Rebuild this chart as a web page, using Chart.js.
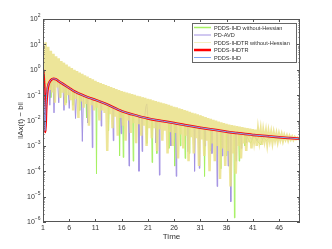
<!DOCTYPE html>
<html>
<head>
<meta charset="utf-8">
<script src="https://cdn.jsdelivr.net/npm/chart.js@4/dist/chart.umd.min.js"></script>
<style>
  html, body { margin: 0; padding: 0; background: #fff; }
  #wrap { width: 332px; height: 249px; }
</style>
</head>
<body>
<div id="wrap"><canvas id="chart" width="332" height="249"></canvas></div>
<script>
// ---- data ----
const seriesNames = [
    'PDDS-IHD without-Hessian',
    'PD-AVD',
    'PDDS-IHDTR without-Hessian',
    'PDDS-IHDTR',
    'PDDS-IHD'
];
const xTicks = [1, 6, 11, 16, 21, 26, 31, 36, 41, 46];
const yTicks = [1e-6, 1e-5, 1e-4, 1e-3, 1e-2, 1e-1, 1e0, 1e1, 1e2];

// PDDS-IHDTR (smooth red curve)
const redT = [1, 1.15, 1.3, 1.45, 1.6, 1.8, 2.1, 2.5, 3, 3.5, 4, 5, 6, 7, 8, 9, 10, 11, 13, 16, 18, 21, 24, 26, 28, 31, 34, 36, 38, 41, 44, 46, 48, 50];
const redV = [1, 0.5, 0.1, 0.0035, 0.025, 0.126, 0.28, 0.39, 0.44, 0.42, 0.355, 0.26, 0.19, 0.14, 0.112, 0.091, 0.076, 0.065, 0.045, 0.0234, 0.0174, 0.012, 0.0093, 0.0079, 0.0066, 0.0052, 0.0042, 0.0036, 0.0032, 0.0027, 0.0024, 0.0022, 0.00204, 0.0019];

// PDDS-IHD (thin blue, almost on top of the red one)
const blueT = [1, 1.1, 1.25, 1.4, 1.55, 1.75, 2.1, 2.5, 3, 3.5, 4, 5, 6, 7, 8, 9, 10, 11, 13, 16, 18, 21, 24, 26, 28, 31, 34, 36, 38, 41, 44, 46, 48, 50];
const blueV = [1, 0.3, 0.04, 0.004, 0.03, 0.13, 0.28, 0.39, 0.44, 0.42, 0.355, 0.26, 0.19, 0.14, 0.112, 0.091, 0.076, 0.065, 0.045, 0.0234, 0.0174, 0.012, 0.0093, 0.0079, 0.0066, 0.0052, 0.0042, 0.0036, 0.0032, 0.0027, 0.0024, 0.0022, 0.00204, 0.0019];

// PDDS-IHDTR without-Hessian: fast oscillation, crests at t = 1, 1.5, ... 50
const yellowHiT = [1, 1.5, 2, 2.5, 3, 3.5, 4, 4.5, 5, 5.5, 6, 6.5, 7, 7.5, 8, 8.5, 9, 9.5, 10, 10.5,
    11, 11.5, 12, 12.5, 13, 13.5, 14, 14.5, 15, 15.5, 16, 16.5, 17, 17.5, 18, 18.5, 19, 19.5, 20, 20.5,
    21, 21.5, 22, 22.5, 23, 23.5, 24, 24.5, 25, 25.5, 26, 26.5, 27, 27.5, 28, 28.5, 29, 29.5, 30, 30.5,
    31, 31.5, 32, 32.5, 33, 33.5, 34, 34.5, 35, 35.5, 36, 36.5, 37, 37.5, 38, 38.5, 39, 39.5, 40, 40.5,
    41, 41.5, 42, 42.5, 43, 43.5, 44, 44.5, 45, 45.5, 46, 46.5, 47, 47.5, 48, 48.5, 49, 49.5, 50];
const yellowHiV = [1.6, 12, 8, 5.6, 4.3, 3.4, 2.8, 2.2, 1.9, 1.6, 1.35, 1.17, 1.0, 0.89, 0.78, 0.69, 0.6, 0.54, 0.47, 0.42,
    0.37, 0.33, 0.3, 0.275, 0.25, 0.23, 0.21, 0.19, 0.174, 0.158, 0.145, 0.135, 0.126, 0.117, 0.11, 0.102, 0.095, 0.089, 0.083, 0.078,
    0.072, 0.068, 0.063, 0.059, 0.055, 0.051, 0.048, 0.045, 0.042, 0.038, 0.035, 0.033, 0.03, 0.028, 0.026, 0.024, 0.022, 0.02, 0.019, 0.0174,
    0.0162, 0.0148, 0.0138, 0.0126, 0.0117, 0.0107, 0.01, 0.0091, 0.0085, 0.0079, 0.0074, 0.0069, 0.0066, 0.0063, 0.006, 0.0058, 0.0055, 0.0052, 0.005, 0.0048,
    0.0046, 0.0044, 0.0042, 0.004, 0.0038, 0.0036, 0.0035, 0.0033, 0.0032, 0.003, 0.0029, 0.0028, 0.0026, 0.0025, 0.0024, 0.0023, 0.0022, 0.0021, 0.002];
// troughs at t = 1.25, 1.75, ... 49.75
const yellowLoT = [1.25, 1.75, 2.25, 2.75, 3.25, 3.75, 4.25, 4.75, 5.25, 5.75, 6.25, 6.75, 7.25, 7.75, 8.25, 8.75, 9.25, 9.75, 10.25, 10.75,
    11.25, 11.75, 12.25, 12.75, 13.25, 13.75, 14.25, 14.75, 15.25, 15.75, 16.25, 16.75, 17.25, 17.75, 18.25, 18.75, 19.25, 19.75, 20.25, 20.75,
    21.25, 21.75, 22.25, 22.75, 23.25, 23.75, 24.25, 24.75, 25.25, 25.75, 26.25, 26.75, 27.25, 27.75, 28.25, 28.75, 29.25, 29.75, 30.25, 30.75,
    31.25, 31.75, 32.25, 32.75, 33.25, 33.75, 34.25, 34.75, 35.25, 35.75, 36.25, 36.75, 37.25, 37.75, 38.25, 38.75, 39.25, 39.75, 40.25, 40.75,
    41.25, 41.75, 42.25, 42.75, 43.25, 43.75, 44.25, 44.75, 45.25, 45.75, 46.25, 46.75, 47.25, 47.75, 48.25, 48.75, 49.25, 49.75];
const yellowLoV = [0.32, 0.063, 0.16, 0.126, 0.05, 0.2, 0.079, 0.126, 0.04, 0.1, 0.063, 0.025, 0.071, 0.0126, 0.056, 0.032, 0.045, 0.0063, 0.04, 0.025,
    0.032, 0.01, 0.025, 0.02, 0.00063, 0.0178, 0.005, 0.014, 0.0025, 0.0126, 0.0063, 0.0016, 0.01, 0.0032, 0.0079, 0.00126, 0.0071, 0.0025, 0.0063, 0.001,
    0.005, 0.002, 0.005, 0.00063, 0.0045, 0.0016, 0.004, 0.0005, 0.0035, 0.001, 0.0032, 0.00032, 0.0028, 0.0008, 0.0025, 0.00025, 0.0022, 0.0005, 0.002, 0.00016,
    0.0018, 0.0004, 0.0016, 0.0001, 0.00126, 0.00025, 0.001, 0.00005, 0.0008, 0.00016, 0.00063, 0.000025, 0.0005, 0.00008, 0.001, 0.00032, 0.00126, 0.00063, 0.0014, 0.0008,
    0.0016, 0.001, 0.0016, 0.0011, 0.00166, 0.00126, 0.00166, 0.0014, 0.0017, 0.0015, 0.00174, 0.0016, 0.0018, 0.00166, 0.0018, 0.00174, 0.00186, 0.00186];

// PD-AVD (purple): rides just under the red curve, with thin downward spikes
const purpleT = [1, 1.2, 1.35, 1.5, 1.8, 2.1, 2.3, 2.5, 2.9, 3.1, 3.3, 3.8, 4.0, 4.2, 4.8, 5.0, 5.2, 5.8, 6.0, 6.2,
    7.0, 7.2, 7.4, 8.3, 8.5, 8.7, 9.4, 9.5, 9.6, 10.3, 10.4, 10.5, 12.0, 12.1, 12.2, 14.3, 14.4, 14.5, 15.8, 15.9,
    16.0, 17.3, 17.4, 17.5, 19.2, 19.3, 19.4, 19.8, 19.9, 20.0, 20.4, 20.6, 20.8, 21.0, 22.4, 22.5, 22.6, 23.1, 23.2, 23.3,
    25.3, 25.4, 25.5, 26.3, 26.4, 26.5, 28.5, 28.6, 28.7, 29.8, 29.9, 30.0, 30.7, 30.8, 30.9, 31.8, 31.9, 32.0, 33.1, 33.2,
    33.3, 34.1, 34.2, 34.3, 35.1, 35.2, 35.3, 36.2, 36.3, 36.4, 36.7, 36.8, 36.9, 37.7, 37.8, 37.9, 38.7, 38.8, 38.9, 39.7,
    39.8, 39.9, 40.8, 41.3, 41.8, 42.3, 42.8, 43.3, 44, 45, 46, 48, 50];
const purpleV = [1, 0.3, 0.03, 0.1, 0.15, 0.27, 0.04, 0.35, 0.4, 0.02, 0.4, 0.35, 0.05, 0.33, 0.26, 0.025, 0.24, 0.2, 0.03, 0.18,
    0.13, 0.012, 0.12, 0.1, 0.0015, 0.095, 0.085, 0.008, 0.082, 0.072, 0.00085, 0.07, 0.052, 0.006, 0.05, 0.033, 0.0016, 0.032, 0.025, 0.003,
    0.023, 0.019, 0.00016, 0.019, 0.015, 0.0001, 0.015, 0.014, 0.0006, 0.0135, 0.014, 0.035, 0.045, 0.012, 0.011, 0.0013, 0.011, 0.0102, 0.00007, 0.0099,
    0.0087, 0.001, 0.0085, 0.0076, 0.000063, 0.0075, 0.0064, 0.0006, 0.0063, 0.0057, 0.0001, 0.0056, 0.0053, 0.00013, 0.0052, 0.0049, 0.001, 0.0049, 0.0045, 0.0005,
    0.0044, 0.0042, 0.000025, 0.0041, 0.0039, 0.0004, 0.0039, 0.0036, 0.00016, 0.0036, 0.0035, 0.0000063, 0.0035, 0.0033, 0.00025, 0.0033, 0.0031, 0.0008, 0.0031, 0.0029,
    0.0013, 0.0029, 0.0018, 0.0032, 0.0016, 0.0028, 0.0018, 0.0025, 0.002, 0.0022, 0.002, 0.002, 0.0019];

// PDDS-IHD without-Hessian (green): same idea, its own spikes
const greenT = [1, 1.3, 1.6, 2.4, 2.5, 2.6, 4.2, 4.3, 4.4, 5.3, 5.4, 5.5, 6.6, 6.7, 6.8, 7.9, 8.0, 8.1, 9.2, 9.3,
    9.4, 11.1, 11.2, 11.3, 13.4, 13.5, 13.6, 15.5, 15.6, 15.7, 16.2, 16.3, 16.4, 18.1, 18.2, 18.3, 20.7, 20.8, 20.9, 21.7,
    21.8, 21.9, 22.6, 22.7, 22.8, 24.9, 25.0, 25.1, 26.0, 26.1, 26.2, 27.1, 27.2, 27.3, 28.0, 28.1, 28.2, 28.8, 28.9, 29.0,
    31.7, 31.8, 31.9, 32.9, 33.0, 33.1, 34.8, 34.9, 35.0, 35.9, 36.0, 36.1, 37.4, 37.5, 37.6, 38.3, 38.4, 38.5, 39.4, 39.5,
    39.6, 40.6, 41.2, 41.8, 42.5, 43.0, 43.6, 44.3, 45.5, 47, 50];
const greenV = [1, 0.16, 0.3, 0.3, 0.08, 0.33, 0.33, 0.08, 0.32, 0.24, 0.05, 0.23, 0.15, 0.04, 0.15, 0.115, 0.025, 0.11, 0.088, 0.0126,
    0.085, 0.066, 0.000079, 0.064, 0.042, 0.004, 0.041, 0.027, 0.0004, 0.026, 0.024, 0.00035, 0.023, 0.017, 0.00025, 0.017, 0.0125, 0.00126, 0.0124, 0.0112,
    0.00022, 0.011, 0.0104, 0.0005, 0.0103, 0.0087, 0.0008, 0.0086, 0.008, 0.00016, 0.0079, 0.0072, 0.001, 0.0072, 0.0067, 0.00032, 0.0066, 0.0062, 0.0005, 0.0062,
    0.005, 0.000063, 0.005, 0.0046, 0.00063, 0.0045, 0.004, 0.000126, 0.0039, 0.0037, 0.0004, 0.0037, 0.0033, 0.00000145, 0.0033, 0.0032, 0.00025, 0.0032, 0.003, 0.001,
    0.003, 0.00126, 0.0025, 0.0016, 0.0011, 0.0022, 0.0016, 0.0022, 0.0019, 0.002, 0.0019];

const colors = ['#a6f062', '#a291e2', 'rgba(234, 225, 135, 0.85)', '#ff0000', '#7fa4f2'];

// ---- build datasets ----
function pairs(ts, vs) {
    return ts.map((t, i) => ({ x: t, y: vs[i] }));
}

// interleave crests and troughs of the oscillating series
const yellowPts = [];
yellowHiT.forEach((t, i) => {
    yellowPts.push({ x: t, y: yellowHiV[i] });
    if (i < yellowLoT.length) yellowPts.push({ x: yellowLoT[i], y: yellowLoV[i] });
});

const FONT = "'Liberation Sans', Arial, Helvetica, sans-serif";

// draws box, inside ticks, log labels, titles and the legend like the original figure
const decorPlugin = {
    id: 'decor',
    afterDatasetsDraw(chart) {
        const ctx = chart.ctx;
        const xs = chart.scales.x;
        const ys = chart.scales.y;
        const { left, right, top, bottom } = chart.chartArea;

        ctx.save();
        ctx.strokeStyle = '#555';
        ctx.lineWidth = 1;

        // axis box
        ctx.strokeRect(left + 0.5, top + 0.5, right - left - 1, bottom - top - 1);

        // x ticks (bottom and top, inside)
        ctx.beginPath();
        xTicks.forEach(v => {
            const px = Math.round(xs.getPixelForValue(v)) + 0.5;
            ctx.moveTo(px, bottom); ctx.lineTo(px, bottom - 3);
            ctx.moveTo(px, top); ctx.lineTo(px, top + 3);
        });
        // y major + minor ticks (left and right, inside)
        yTicks.forEach((v, i) => {
            const py = Math.round(ys.getPixelForValue(v)) + 0.5;
            ctx.moveTo(left, py); ctx.lineTo(left + 3, py);
            ctx.moveTo(right, py); ctx.lineTo(right - 3, py);
            if (i < yTicks.length - 1) {
                for (let k = 2; k <= 9; k++) {
                    const pm = Math.round(ys.getPixelForValue(v * k)) + 0.5;
                    ctx.moveTo(left, pm); ctx.lineTo(left + 1.5, pm);
                    ctx.moveTo(right, pm); ctx.lineTo(right - 1.5, pm);
                }
            }
        });
        ctx.stroke();

        // y tick labels as 10 with raised exponent
        ctx.fillStyle = '#333';
        ctx.textBaseline = 'middle';
        yTicks.forEach(v => {
            const py = ys.getPixelForValue(v);
            const exp = String(Math.round(Math.log10(v))).replace('-', '\u2212');
            ctx.font = '5px ' + FONT;
            const ew = ctx.measureText(exp).width;
            ctx.textAlign = 'left';
            ctx.fillText(exp, 40.5 - ew, py - 3);
            ctx.font = '7px ' + FONT;
            ctx.textAlign = 'right';
            ctx.fillText('10', 40.5 - ew, py + 0.5);
        });

        // x tick labels
        ctx.font = '7px ' + FONT;
        ctx.textAlign = 'center';
        xTicks.forEach(v => {
            ctx.fillText(String(v), xs.getPixelForValue(v), 228.5);
        });

        // axis titles
        ctx.font = '8px ' + FONT;
        ctx.fillText('Time', (left + right) / 2, 236.5);
        ctx.save();
        ctx.translate(21, (top + bottom) / 2);
        ctx.rotate(-Math.PI / 2);
        ctx.fillText('\u2016Ax(t) \u2212 b\u2016', 0, 0);
        ctx.restore();

        // legend box
        const lx = 192, ly = 23, lw = 104, lh = 39;
        ctx.fillStyle = '#fff';
        ctx.fillRect(lx, ly, lw, lh);
        ctx.strokeStyle = '#666';
        ctx.strokeRect(lx + 0.5, ly + 0.5, lw, lh);
        ctx.font = '5.6px ' + FONT;
        ctx.textAlign = 'left';
        chart.data.datasets.forEach((ds, i) => {
            const ry = 27.5 + i * 7.5;
            ctx.strokeStyle = i === 2 ? '#f4efbf' : ds.borderColor;
            ctx.lineWidth = i === 3 ? 2.5 : (i === 0 ? 1.5 : 1);
            ctx.beginPath();
            ctx.moveTo(194, ry); ctx.lineTo(211, ry);
            ctx.stroke();
            ctx.fillStyle = '#333';
            ctx.fillText(ds.label, 214, ry + 0.5);
        });
        ctx.restore();
    }
};

new Chart(document.getElementById('chart'), {
    type: 'line',
    data: {
        datasets: [
            { label: seriesNames[0], data: pairs(greenT, greenV), borderColor: colors[0], borderWidth: 1, order: 4 },
            { label: seriesNames[1], data: pairs(purpleT, purpleV), borderColor: colors[1], borderWidth: 1, order: 3 },
            { label: seriesNames[2], data: yellowPts, borderColor: colors[2], borderWidth: 2.5, order: 2 },
            { label: seriesNames[3], data: pairs(redT, redV), borderColor: colors[3], borderWidth: 2.5, order: 1, cubicInterpolationMode: 'monotone' },
            { label: seriesNames[4], data: pairs(blueT, blueV), borderColor: colors[4], borderWidth: 1, order: 0, cubicInterpolationMode: 'monotone' }
        ]
    },
    options: {
        responsive: false,
        animation: false,
        elements: { point: { radius: 0 }, line: { tension: 0, fill: false } },
        layout: { padding: { top: 19, right: 32, left: 0, bottom: 0 } },
        plugins: {
            legend: { display: false },
            tooltip: { enabled: false }
        },
        scales: {
            x: {
                type: 'linear',
                min: 1,
                max: 50,
                afterBuildTicks: (s) => { s.ticks = xTicks.map(v => ({ value: v })); },
                afterFit: (s) => { s.height = 27; },
                ticks: { display: false },
                grid: { display: false },
                border: { display: false }
            },
            y: {
                type: 'logarithmic',
                min: 1e-6,
                max: 1e2,
                afterBuildTicks: (s) => { s.ticks = yTicks.map(v => ({ value: v })); },
                afterFit: (s) => { s.width = 43; },
                ticks: { display: false },
                grid: { display: false },
                border: { display: false }
            }
        }
    },
    plugins: [decorPlugin]
});
</script>
</body>
</html>
